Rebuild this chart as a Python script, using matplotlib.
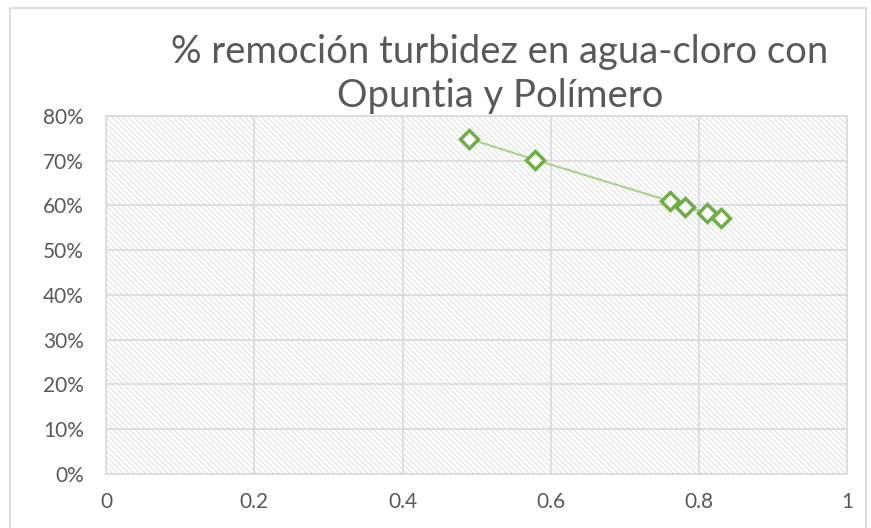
import matplotlib
matplotlib.use('Agg')
import matplotlib.pyplot as plt
from matplotlib.ticker import PercentFormatter
from matplotlib.patches import Rectangle

plt.rcParams['font.family'] = ['Lato', 'DejaVu Sans']
plt.rcParams['hatch.linewidth'] = 0.7

# datos
dosis = [0.49, 0.579, 0.760, 0.781, 0.810, 0.830]
remocion = [0.749, 0.702, 0.610, 0.597, 0.583, 0.572]
x_ticks = [0, 0.2, 0.4, 0.6, 0.8, 1]
x_labels = ['0', '0.2', '0.4', '0.6', '0.8', '1']
y_ticks = [0, 0.1, 0.2, 0.3, 0.4, 0.5, 0.6, 0.7, 0.8]

gris = '#595959'
fig = plt.figure(figsize=(8.71, 5.28), dpi=100)
ax = fig.add_axes([0.1217, 0.1023, 0.8513, 0.678])

# fondo con trama diagonal del area de trazado
ax.add_patch(Rectangle((0, 0), 1, 1, transform=ax.transAxes, facecolor='white',
                       edgecolor='#dedede', linewidth=0, hatch='\\\\\\\\\\\\', zorder=0))

ax.plot(dosis, remocion, '-', color='#a9d18e', linewidth=1.5, zorder=3)
ax.plot(dosis, remocion, 'D', markersize=9.5, markerfacecolor='white',
        markeredgecolor='#70ad47', markeredgewidth=2.5, linestyle='none', zorder=4)

ax.set_xlim(0, 1)
ax.set_ylim(0, 0.8)
ax.set_xticks(x_ticks)
ax.set_xticklabels(x_labels)
ax.set_yticks(y_ticks)
ax.yaxis.set_major_formatter(PercentFormatter(1.0, decimals=0))
ax.tick_params(length=0, labelsize=15, labelcolor=gris)
ax.tick_params(axis='x', pad=13)
ax.tick_params(axis='y', pad=16)
ax.grid(True, color='#d9d9d9', linewidth=1.2, zorder=1)
ax.set_axisbelow(True)
for s in ax.spines.values():
    s.set_color('#d9d9d9')
    s.set_linewidth(1.2)

fig.text(0.574, 0.86, '% remoción turbidez en agua-cloro con\nOpuntia y Polímero',
         ha='center', va='center', fontsize=27.5, color=gris, linespacing=1.3)

# borde del grafico
fig.add_artist(Rectangle((0.012, -0.01), 0.982, 0.995, transform=fig.transFigure,
                         facecolor='none', edgecolor='#d9d9d9', linewidth=1.2))

fig.savefig('out.png', dpi=100)
